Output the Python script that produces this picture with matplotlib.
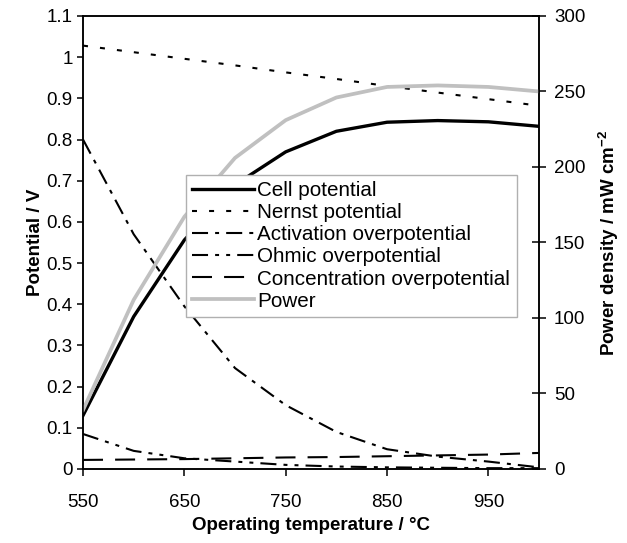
# Cell potential, losses and power density vs operating temperature

import matplotlib
matplotlib.use('Agg')
import matplotlib.pyplot as plt

plt.rcParams['font.family'] = ['Liberation Sans', 'DejaVu Sans']
plt.rcParams['mathtext.default'] = 'regular'

# Data
temperature = [550, 600, 650, 700, 750, 800, 850, 900, 950, 1000]
cell_potential = [0.13, 0.37, 0.556, 0.69, 0.77, 0.82, 0.842, 0.846, 0.843, 0.832]
nernst_potential = [1.028, 1.012, 0.996, 0.98, 0.963, 0.947, 0.93, 0.914, 0.898, 0.882]
activation_op = [0.80, 0.57, 0.395, 0.245, 0.155, 0.09, 0.048, 0.03, 0.018, 0.004]
ohmic_op = [0.085, 0.044, 0.026, 0.018, 0.01, 0.006, 0.004, 0.003, 0.002, 0.002]
concentration_op = [0.022, 0.023, 0.024, 0.026, 0.028, 0.029, 0.031, 0.033, 0.035, 0.039]
power = [39, 112, 167, 206, 231, 246, 253, 254, 253, 250]

x_ticks = [550, 650, 750, 850, 950]
left_ticks = [0, 0.1, 0.2, 0.3, 0.4, 0.5, 0.6, 0.7, 0.8, 0.9, 1, 1.1]
left_labels = ['0', '0.1', '0.2', '0.3', '0.4', '0.5', '0.6', '0.7', '0.8', '0.9', '1', '1.1']
right_ticks = [0, 50, 100, 150, 200, 250, 300]

fig = plt.figure(figsize=(6.27, 5.43), dpi=100)
ax = fig.add_axes([0.1324, 0.1363, 0.7273, 0.8343])
ax2 = ax.twinx()

lw = 1.5
ax.plot(temperature, cell_potential, color='black', lw=2.4, solid_joinstyle='round',
        label='Cell potential')
ax.plot(temperature, nernst_potential, color='black', lw=lw, dashes=(2.4, 5.8),
        label='Nernst potential')
ax.plot(temperature, activation_op, color='black', lw=lw, dashes=(7.7, 3.4, 1.9, 3.4),
        label='Activation overpotential')
ax.plot(temperature, ohmic_op, color='black', lw=lw, dashes=(7.7, 3.4, 1.9, 3.4, 1.9, 3.4),
        label='Ohmic overpotential')
ax.plot(temperature, concentration_op, color='black', lw=lw, dashes=(9.6, 5.8),
        label='Concentration overpotential')
ax2.plot(temperature, power, color='#c0c0c0', lw=2.7, solid_joinstyle='round',
         label='Power')

ax.set_xlim(550, 1000)
ax.set_ylim(0, 1.1)
ax2.set_ylim(0, 300)
ax.set_xticks(x_ticks)
ax.set_yticks(left_ticks)
ax.set_yticklabels(left_labels)
ax2.set_yticks(right_ticks)

for a in (ax, ax2):
    for s in a.spines.values():
        s.set_linewidth(1.1)
ax.tick_params(axis='y', direction='out', length=4.5, width=1.1, labelsize=13.5, pad=3)
ax.tick_params(axis='x', direction='out', length=5, width=1.1, labelsize=13.5, pad=13)
ax2.tick_params(axis='y', direction='inout', length=9.5, width=1.1, labelsize=13.5, pad=6)

ax.set_xlabel('Operating temperature / °C', fontsize=13.5, fontweight='bold', labelpad=4)
ax.set_ylabel('Potential / V', fontsize=13.5, fontweight='bold', labelpad=2)
ax2.set_ylabel('Power density / mW cm$^{-2}$', fontsize=13.5, fontweight='bold', labelpad=8)

h1, l1 = ax.get_legend_handles_labels()
h2, l2 = ax2.get_legend_handles_labels()
leg = ax2.legend(h1 + h2, l1 + l2, loc='upper left', bbox_to_anchor=(0.226, 0.649),
                 fontsize=14.9, handlelength=3.0, labelspacing=0.15, handletextpad=0.15,
                 borderpad=0.3, borderaxespad=0, fancybox=False, framealpha=1,
                 edgecolor='#b0b0b0')
leg.get_frame().set_linewidth(1.0)

plt.savefig('out.png', dpi=100)
